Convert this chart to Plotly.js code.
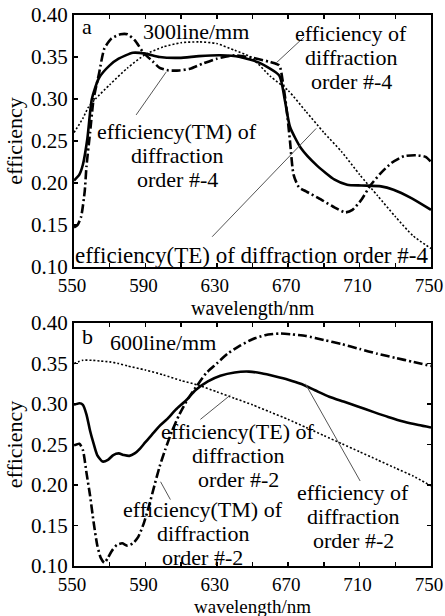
<!DOCTYPE html>
<html>
<head>
<meta charset="utf-8">
<script src="https://cdn.plot.ly/plotly-3.0.1.min.js"></script>
<style>html,body{margin:0;padding:0;background:#fff;}#chart{width:445px;height:616px;}</style>
</head>
<body>
<div id="chart"></div>
<script>
// ---- Panel a (300 line/mm) ----
const aSolidX = [550,553,555,557.5,560,564,570,575,583,590,598,609,620,632,643,654,665,668,671,677,686,696,703,711,722,729,739,750];
const aSolidY = [0.203,0.21,0.222,0.253,0.30,0.325,0.34,0.348,0.355,0.354,0.35,0.349,0.351,0.352,0.35,0.343,0.328,0.30,0.267,0.242,0.221,0.204,0.198,0.197,0.196,0.192,0.182,0.168];
const aTMX = [550,552,554,556,557,559,561,564,567,571,576,580,584,589,594,598,603,609,615,622,630,640,650,660,665,667,669,671,673,676,680,687,695,702,706,711,716,722,728,735,742,747,750];
const aTMY = [0.147,0.15,0.16,0.19,0.22,0.26,0.30,0.33,0.36,0.372,0.377,0.377,0.37,0.355,0.345,0.337,0.334,0.334,0.336,0.342,0.348,0.352,0.349,0.344,0.340,0.32,0.29,0.25,0.21,0.195,0.19,0.182,0.172,0.165,0.168,0.18,0.197,0.212,0.224,0.232,0.233,0.231,0.225];
const aTEX = [550,555,558,562,570,580,590,600,610,620,630,640,649,660,670,680,690,700,710,720,730,740,750];
const aTEY = [0.26,0.277,0.29,0.30,0.317,0.337,0.353,0.362,0.367,0.368,0.366,0.358,0.35,0.327,0.31,0.285,0.26,0.237,0.21,0.185,0.16,0.137,0.122];

// ---- Panel b (600 line/mm) ----
const bSolidX = [550,553,555,557,559,561,563,566,569,572,575,578,581,584,587,590,594,598,602,607,613,618,625,632,640,648,655,663,670,677,685,693,701,709,718,726,735,743,750];
const bSolidY = [0.299,0.301,0.299,0.287,0.267,0.251,0.237,0.229,0.231,0.237,0.239,0.237,0.236,0.239,0.245,0.253,0.263,0.273,0.281,0.293,0.305,0.317,0.328,0.335,0.339,0.34,0.338,0.334,0.33,0.325,0.317,0.309,0.303,0.297,0.29,0.284,0.278,0.274,0.271];
const bTMX = [550,553,555,557,559,561,563,565,567,569,571,574,577,580,583,586,589,592,595,598,601,605,609,614,619,624,630,636,643,650,657,665,672,680,690,700,710,720,730,740,750];
const bTMY = [0.249,0.251,0.243,0.215,0.187,0.154,0.126,0.11,0.104,0.11,0.118,0.126,0.128,0.125,0.128,0.136,0.152,0.174,0.199,0.223,0.243,0.267,0.287,0.307,0.323,0.338,0.35,0.362,0.372,0.38,0.385,0.387,0.386,0.384,0.379,0.374,0.368,0.362,0.357,0.352,0.347];
const bTEX = [550,555,560,565,570,575,580,590,600,610,620,630,640,650,660,670,680,690,700,710,720,730,740,750];
const bTEY = [0.35,0.354,0.354,0.353,0.352,0.35,0.347,0.342,0.336,0.329,0.323,0.315,0.307,0.299,0.29,0.281,0.271,0.261,0.251,0.241,0.231,0.221,0.211,0.199];

// tick labels
const xTickVals = [550,590,630,670,710,750];
const xTickText = ['550','590','630','670','710','750'];
const yTickVals = [0.10,0.15,0.20,0.25,0.30,0.35,0.40];
const yTickText = ['0.10','0.15','0.20','0.25','0.30','0.35','0.40'];

const FONT = 'Liberation Serif, Times New Roman, serif';

function tr(x, y, xa, ya, style) {
  let line = {color:'#000'};
  if (style === 'solid') { line.width = 2.6; line.dash = 'solid'; }
  if (style === 'tm') { line.width = 2.6; line.dash = '9px,3px,2px,3px'; }
  if (style === 'te') { line.width = 1.6; line.dash = '2px,2px'; }
  line.shape = 'spline'; line.smoothing = 0.6;
  return {x:x, y:y, xaxis:xa, yaxis:ya, type:'scatter', mode:'lines', line:line, showlegend:false, hoverinfo:'skip'};
}

const data = [
  tr(aTEX, aTEY, 'x', 'y', 'te'),
  tr(aTMX, aTMY, 'x', 'y', 'tm'),
  tr(aSolidX, aSolidY, 'x', 'y', 'solid'),
  tr(bTEX, bTEY, 'x2', 'y2', 'te'),
  tr(bTMX, bTMY, 'x2', 'y2', 'tm'),
  tr(bSolidX, bSolidY, 'x2', 'y2', 'solid')
];

function xax(anchor) {
  return {
    anchor: anchor, domain:[0,1], range:[550,750], tickmode:'array', tickvals:xTickVals, ticktext:xTickText,
    ticks:'inside', ticklen:4, tickwidth:1.5, tickcolor:'#000', ticklabeloverflow:'allow', ticklabelshift:-2,
    minor:{tickmode:'linear', tick0:550, dtick:20, ticks:'inside', ticklen:4, tickwidth:1.5, tickcolor:'#000'},
    showline:true, linecolor:'#000', linewidth:2, mirror:'ticks', showgrid:false, zeroline:false,
    tickfont:{family:FONT, size:19, color:'#000'}
  };
}
function yax(anchor, domain, mirror) {
  return {
    anchor: anchor, domain: domain, range:[0.10,0.40], tickmode:'array', tickvals:yTickVals, ticktext:yTickText,
    ticks:'inside', ticklen:4, tickwidth:1.5, tickcolor:'#000',
    showline:true, linecolor:'#000', linewidth:2, mirror:mirror, showgrid:false, zeroline:false,
    tickfont:{family:FONT, size:21, color:'#000'},
    title:{text:'efficiency', font:{family:FONT, size:22, color:'#000'}, standoff:2}
  };
}

const annots = [];
function txt(lines, x, y, xr, yr, anchor, size) {
  const n = lines.length;
  lines.forEach((s, i) => {
    annots.push({text:s, x:x, y:y, xref:xr, yref:yr, showarrow:false, xanchor:anchor||'center', yanchor:'middle',
      yshift: ((n-1)/2 - i) * 24, font:{family:FONT, size:size||22, color:'#000'}});
  });
}
txt(['a'], 553.2, 0.386, 'x', 'y', 'left');
txt(['300line/mm'], 618.4, 0.380, 'x', 'y');
txt(['efficiency of','diffraction','order #-4'], 705.4, 0.349, 'x', 'y');
txt(['efficiency(TM) of','diffraction','order #-4'], 607.8, 0.233, 'x', 'y');
txt(['efficiency(TE) of diffraction order #-4'], 649.5, 0.114, 'x', 'y', 'center', 23);
txt(['b'], 553.6, 0.383, 'x2', 'y2', 'left');
txt(['600line/mm'], 599.6, 0.376, 'x2', 'y2');
txt(['efficiency(TE) of','diffraction','order #-2'], 642, 0.237, 'x2', 'y2');
txt(['efficiency(TM) of','diffraction','order #-2'], 622, 0.140, 'x2', 'y2');
txt(['efficiency of','diffraction','order #-2'], 706.4, 0.161, 'x2', 'y2');
// x-axis titles
annots.push({text:'wavelength/nm', x:0.5, y:0.468, xref:'paper', yref:'paper', showarrow:false, xanchor:'center', yanchor:'middle', font:{family:FONT, size:20, color:'#000'}});
annots.push({text:'wavelength/nm', x:0.5, y:-0.0726, xref:'paper', yref:'paper', showarrow:false, xanchor:'center', yanchor:'middle', font:{family:FONT, size:19, color:'#000'}});

function ptr(x0, y0, x1, y1, xr, yr) {
  return {type:'line', x0:x0, y0:y0, x1:x1, y1:y1, xref:xr, yref:yr, line:{color:'#555', width:1}};
}
const shapes = [
  ptr(679, 0.374, 663.3, 0.343, 'x', 'y'),
  ptr(584.8, 0.281, 601.6, 0.332, 'x', 'y'),
  ptr(627.4, 0.136, 685.7, 0.265, 'x', 'y'),
  ptr(620.8, 0.281, 637.6, 0.311, 'x2', 'y2'),
  ptr(604, 0.182, 598.5, 0.204, 'x2', 'y2'),
  ptr(710.3, 0.205, 679.6, 0.325, 'x2', 'y2')
];

const layout = {
  width:445, height:616, margin:{l:74, r:14, t:15, b:50},
  paper_bgcolor:'#fff', plot_bgcolor:'#fff', showlegend:false,
  xaxis: xax('y'),
  yaxis: yax('x', [0.5427,1], true),
  xaxis2: xax('y2'),
  yaxis2: yax('x2', [0,0.441], 'ticks'),
  yaxis3: {overlaying:'y', side:'right', anchor:'x', range:[0.10,0.40], tickmode:'linear', tick0:0.10, dtick:0.03,
    ticks:'inside', ticklen:4, tickwidth:1.5, tickcolor:'#000', showticklabels:false, showline:true, linecolor:'#000', linewidth:2, showgrid:false, zeroline:false},
  annotations: annots,
  shapes: shapes
};

Plotly.newPlot('chart', data, layout, {staticPlot:true, displayModeBar:false});
</script>
</body>
</html>
